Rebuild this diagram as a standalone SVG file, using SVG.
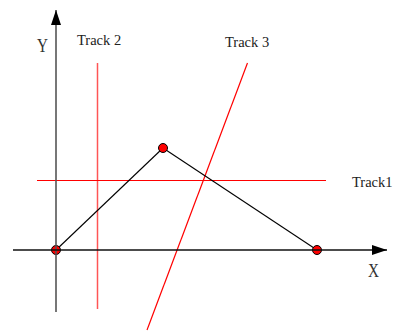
<svg xmlns="http://www.w3.org/2000/svg" width="393" height="331" viewBox="0 0 393 331">
<style>
.lbl{font-family:"Liberation Serif","Times New Roman",serif;font-size:14.5px;fill:#222}
.ax{font-family:"Liberation Serif","Times New Roman",serif;font-size:19px;fill:#333}
.tri{stroke:#000;stroke-width:1.1;fill:none}
.node{fill:#f00;stroke:#000;stroke-width:1}
</style>
<defs>
<marker id="arr" viewBox="0 0 15 10" refX="15" refY="5" markerWidth="15" markerHeight="10" markerUnits="userSpaceOnUse" orient="auto">
<path d="M0,0 L15,5 L0,10 Z" fill="#000"/>
</marker>
</defs>
<rect width="393" height="331" fill="#fff"/>
<g id="tracks">
<line x1="97.5" y1="63" x2="97.5" y2="309" stroke="#f55" stroke-width="1.5"/>
<line x1="247.5" y1="63" x2="147" y2="330" stroke="#f00" stroke-width="1.2"/>
<line x1="37" y1="180.5" x2="326" y2="180.5" stroke="#f00" stroke-width="1.2"/>
</g>
<g id="connectors">
<line class="tri" x1="56" y1="250" x2="163" y2="148"/>
<line class="tri" x1="163" y1="148" x2="317" y2="250"/>
</g>
<g id="node-a"><circle class="node" cx="56" cy="250" r="4.5"/></g>
<g id="node-b"><circle class="node" cx="163" cy="148" r="4.5"/></g>
<g id="node-c"><circle class="node" cx="317" cy="250" r="4.5"/></g>
<g id="axes">
<line x1="56" y1="312" x2="56" y2="10" stroke="#555" stroke-width="1.6" marker-end="url(#arr)"/>
<line x1="13" y1="250" x2="387" y2="250" stroke="#111" stroke-width="1.4" marker-end="url(#arr)"/>
</g>
<g id="labels">
<text class="ax" x="37" y="52" transform="translate(37 0) scale(0.8 1) translate(-37 0)">Y</text>
<text class="ax" x="368" y="277" transform="translate(368 0) scale(0.8 1) translate(-368 0)">X</text>
<text class="lbl" x="77" y="45">Track 2</text>
<text class="lbl" x="225" y="47">Track 3</text>
<text class="lbl" x="352" y="187">Track1</text>
</g>
</svg>
